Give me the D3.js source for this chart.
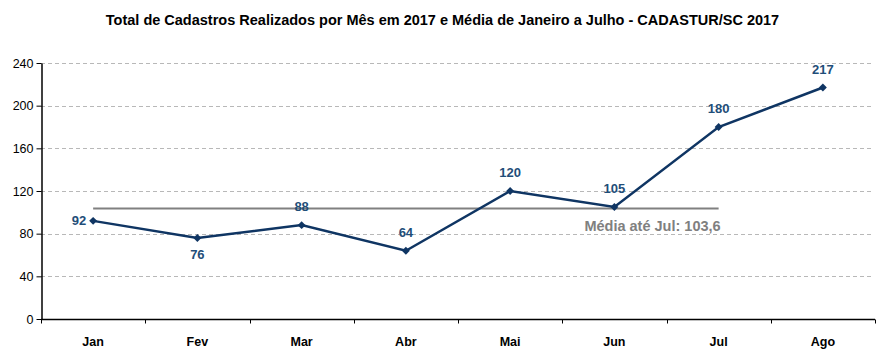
<!DOCTYPE html>
<html>
<head>
<meta charset="utf-8">
<script src="https://cdn.jsdelivr.net/npm/d3@7"></script>
<style>
  body { margin: 0; background: #fff; font-family: "Liberation Sans", Arial, sans-serif; }
</style>
</head>
<body>
<script>
const months = ["Jan", "Fev", "Mar", "Abr", "Mai", "Jun", "Jul", "Ago"];
const cadastros = [92, 76, 88, 64, 120, 105, 180, 217];
const yTicks = [0, 40, 80, 120, 160, 200, 240];
const mediaJul = 103.6;
const mediaLabel = "Média até Jul: 103,6";
const title = "Total de Cadastros Realizados por Mês em 2017 e Média de Janeiro a Julho - CADASTUR/SC 2017";

// where each value label sits relative to its point
const labelSide = ["left", "below", "above", "above", "above", "above", "above", "above"];

const width = 888, height = 362,
  marginLeft = 41, marginRight = 13, marginTop = 63, marginBottom = 43;

const svg = d3.select("body").append("svg")
  .attr("width", width).attr("height", height);

const x = d3.scaleBand().domain(months)
  .range([marginLeft, width - marginRight]);
const y = d3.scaleLinear().domain([0, 240])
  .range([height - marginBottom, marginTop]);

svg.append("text")
  .attr("x", 442.5).attr("y", 25)
  .attr("text-anchor", "middle")
  .attr("font-size", 14.5).attr("font-weight", "bold")
  .attr("fill", "#000")
  .text(title);

// gridlines
svg.append("g").selectAll("line")
  .data(yTicks.filter(d => d > 0))
  .join("line")
  .attr("x1", marginLeft).attr("x2", width - marginRight - 3)
  .attr("y1", d => Math.round(y(d)) + 0.5).attr("y2", d => Math.round(y(d)) + 0.5)
  .attr("stroke", "#b8b8b8").attr("stroke-dasharray", "4,3");

// y axis
const yAxis = svg.append("g")
  .attr("transform", `translate(${marginLeft + 0.5},0)`)
  .call(d3.axisLeft(y).tickValues(yTicks).tickSize(5).tickSizeOuter(0));
yAxis.select(".domain").attr("stroke", "#000").attr("stroke-width", 1.5);
yAxis.selectAll(".tick line").attr("stroke", "#000");
yAxis.selectAll(".tick text")
  .attr("font-family", "Liberation Sans, Arial, sans-serif")
  .attr("font-size", 12.5).attr("fill", "#000").attr("x", -8);

// x axis with ticks at category boundaries
const xAxisG = svg.append("g")
  .attr("transform", `translate(0,${Math.round(y(0)) + 0.5})`);
xAxisG.append("line")
  .attr("x1", marginLeft).attr("x2", width - marginRight)
  .attr("stroke", "#000").attr("stroke-width", 1.5);
xAxisG.selectAll(".bnd")
  .data(months)
  .join("line")
  .attr("class", "bnd")
  .attr("x1", d => Math.round(x(d) + x.bandwidth()) + 0.5)
  .attr("x2", d => Math.round(x(d) + x.bandwidth()) + 0.5)
  .attr("y1", 0).attr("y2", 4)
  .attr("stroke", "#000");
xAxisG.append("line")
  .attr("x1", marginLeft + 0.5).attr("x2", marginLeft + 0.5)
  .attr("y1", 0).attr("y2", 4).attr("stroke", "#000");
xAxisG.selectAll(".lbl")
  .data(months)
  .join("text")
  .attr("class", "lbl")
  .attr("x", d => x(d) + x.bandwidth() / 2)
  .attr("y", 26)
  .attr("text-anchor", "middle")
  .attr("font-size", 12.5).attr("font-weight", "bold")
  .attr("fill", "#000")
  .text(d => d);

const cx = d => x(d) + x.bandwidth() / 2;

// average line Jan..Jul
svg.append("line")
  .attr("x1", cx("Jan")).attr("x2", cx("Jul"))
  .attr("y1", y(mediaJul)).attr("y2", y(mediaJul))
  .attr("stroke", "#808080").attr("stroke-width", 2);
svg.append("text")
  .attr("x", cx("Jul") + 2).attr("y", y(mediaJul) + 23)
  .attr("text-anchor", "end")
  .attr("font-size", 14.5).attr("font-weight", "bold")
  .attr("fill", "#808080")
  .text(mediaLabel);

// series line
const line = d3.line()
  .x((d, i) => cx(months[i]))
  .y(d => y(d));
svg.append("path")
  .datum(cadastros)
  .attr("d", line)
  .attr("fill", "none")
  .attr("stroke", "#0f3563").attr("stroke-width", 2.5);

svg.append("g").selectAll("path")
  .data(cadastros)
  .join("path")
  .attr("transform", (d, i) => `translate(${cx(months[i])},${y(d)}) rotate(45)`)
  .attr("d", "M-2.8,-2.8H2.8V2.8H-2.8Z")
  .attr("fill", "#0f3563");

// value labels
svg.append("g").selectAll("text")
  .data(cadastros)
  .join("text")
  .attr("x", (d, i) => labelSide[i] === "left" ? cx(months[i]) - 7 : cx(months[i]))
  .attr("y", (d, i) => {
    const py = y(d);
    if (labelSide[i] === "left") return py + 4;
    if (labelSide[i] === "below") return py + 21;
    return py - 14;
  })
  .attr("text-anchor", (d, i) => labelSide[i] === "left" ? "end" : "middle")
  .attr("font-size", 13).attr("font-weight", "bold")
  .attr("fill", "#1f4e79")
  .text(d => d);
</script>
</body>
</html>
